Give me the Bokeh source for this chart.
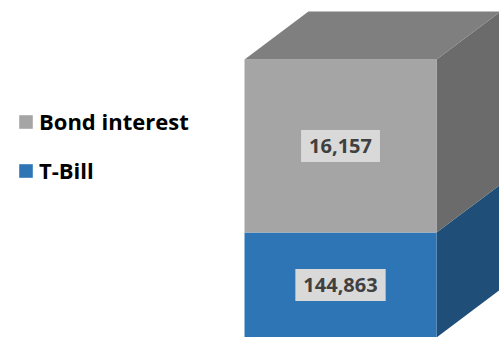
from bokeh.plotting import figure
from bokeh.models import Range1d, Legend, LegendItem, ColumnDataSource
from bokeh.core.properties import value
from bokeh.embed import file_html
from bokeh.resources import INLINE

# ---- data ----
series = ["T-Bill", "Bond interest"]
values = [144863, 16157]
labels = ["144,863", "16,157"]
front_colors = ["#2E75B6", "#A5A5A5"]
side_colors = ["#1F4E79", "#6B6B6B"]
top_color = "#7F7F7F"

# ---- layout / styling constants ----
W, H = 499, 337
baseline = 135060          # visible base of the value axis
y_top = 166530
bar_half = 0.5
depth_x = 0.333
depth_y = 4480

p = figure(width=W, height=H, output_backend="svg", toolbar_location=None,
           x_range=Range1d(-1.7708, 0.828), y_range=Range1d(baseline, y_top),
           min_border=0, outline_line_color=None)
p.axis.visible = False
p.grid.visible = False
p.background_fill_color = "white"
p.border_fill_color = "white"

# stacking (first segment starts at the visible base)
bottoms, tops = [], []
cum = 0
for v in values:
    bottoms.append(baseline if cum == 0 else cum)
    cum += v
    tops.append(cum)

renderers = []
for i, s in enumerate(series):
    b, t = bottoms[i], tops[i]
    x0, x1 = -bar_half, bar_half
    p.patch([x1, x1 + depth_x, x1 + depth_x, x1],
            [b, b + depth_y, t + depth_y, t],
            fill_color=side_colors[i], line_color=None)
    r = p.quad(left=[x0], right=[x1], bottom=[b], top=[t],
               fill_color=front_colors[i], line_color=None)
    renderers.append(r)

# top face
tt = tops[-1]
p.patch([-bar_half, bar_half, bar_half + depth_x, -bar_half + depth_x],
        [tt, tt, tt + depth_y, tt + depth_y], fill_color=top_color, line_color=None)

# data labels
src = ColumnDataSource(dict(x=[0, 0], y=[(bottoms[i] + tops[i]) / 2 for i in range(2)],
                            t=labels))
p.text(x="x", y="y", text="t", source=src, text_align="center", text_baseline="middle",
       text_font=value("Open Sans"), text_font_style="bold", text_font_size="20px",
       text_color="#404040", background_fill_color="#D9D9D9",
       padding=[8, 8, 9, 9])

legend = Legend(items=[LegendItem(label="Bond interest", renderers=[renderers[1]]),
                       LegendItem(label="T-Bill", renderers=[renderers[0]])],
                location=(17, 152), orientation="vertical",
                label_text_font="Open Sans", label_text_font_style="bold",
                label_text_font_size="22px", label_text_color="#000000",
                glyph_width=17, glyph_height=17, spacing=19, padding=0, margin=0,
                label_standoff=5, border_line_color=None, background_fill_alpha=0)
p.add_layout(legend)

open("out.html", "w").write(file_html(p, INLINE))
